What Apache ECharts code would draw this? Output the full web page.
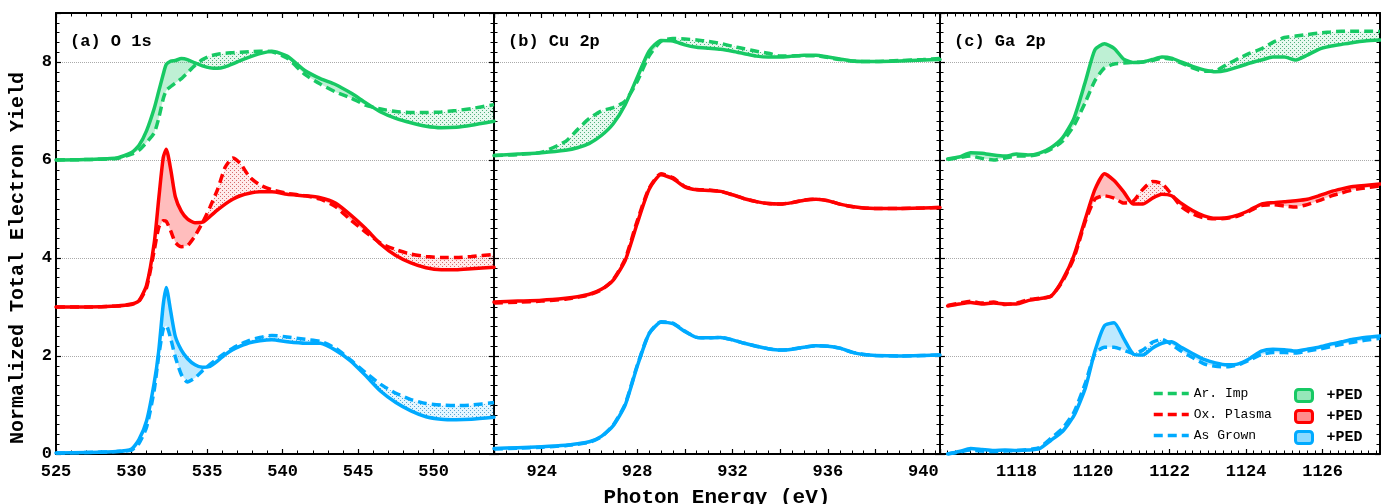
<!DOCTYPE html>
<html>
<head>
<meta charset="utf-8">
<script src="https://cdn.jsdelivr.net/npm/echarts@6/dist/echarts.min.js"></script>
<style>
  html, body { margin: 0; padding: 0; background: #fff; }
  #chart { width: 1381px; height: 504px; }
</style>
</head>
<body>
<div id="chart"></div>
<script>
// ---- data ----
var xA = [525, 527, 529, 530, 530.5, 531, 531.5, 531.8, 532.1, 532.3, 532.6, 532.9, 533.3, 533.7, 534.2, 534.7, 535.2, 535.7, 536.2, 536.7, 537.2, 537.8, 538.5, 539.3, 540.3, 541.5, 542.5, 543.5, 544.5, 545.5, 546.5, 547.5, 548.5, 549.5, 550.5, 551.5, 552.5, 554];
var gSolidA = [6.0, 6.01, 6.04, 6.15, 6.3, 6.6, 7.05, 7.4, 7.75, 7.95, 8.02, 8.03, 8.07, 8.05, 7.98, 7.92, 7.88, 7.87, 7.9, 7.96, 8.03, 8.1, 8.17, 8.22, 8.12, 7.82, 7.66, 7.54, 7.37, 7.17, 6.98, 6.85, 6.76, 6.69, 6.66, 6.67, 6.71, 6.79];
var gDashA = [6.0, 6.01, 6.03, 6.12, 6.2, 6.36, 6.55, 6.85, 7.25, 7.42, 7.5, 7.57, 7.66, 7.78, 7.93, 8.05, 8.12, 8.16, 8.18, 8.19, 8.2, 8.21, 8.22, 8.21, 8.08, 7.74, 7.55, 7.39, 7.27, 7.12, 7.04, 6.99, 6.97, 6.97, 6.98, 7.01, 7.05, 7.13];
var rSolidA = [3.0, 3.0, 3.02, 3.06, 3.13, 3.45, 4.3, 5.2, 6.05, 6.22, 5.8, 5.25, 4.95, 4.8, 4.72, 4.73, 4.85, 4.98, 5.1, 5.2, 5.27, 5.32, 5.35, 5.35, 5.3, 5.27, 5.23, 5.12, 4.88, 4.6, 4.28, 4.05, 3.9, 3.8, 3.76, 3.76, 3.78, 3.81];
var rDashA = [3.0, 3.0, 3.02, 3.05, 3.12, 3.4, 4.15, 4.62, 4.76, 4.75, 4.55, 4.32, 4.23, 4.25, 4.45, 4.72, 5.04, 5.4, 5.85, 6.04, 5.93, 5.66, 5.49, 5.39, 5.32, 5.27, 5.2, 5.05, 4.78, 4.53, 4.3, 4.17, 4.08, 4.03, 4.01, 4.01, 4.03, 4.07];
var bSolidA = [0.02, 0.03, 0.05, 0.1, 0.3, 0.68, 1.45, 2.1, 3.05, 3.4, 2.9, 2.4, 2.12, 1.95, 1.82, 1.77, 1.79, 1.9, 2.03, 2.13, 2.2, 2.27, 2.31, 2.33, 2.29, 2.26, 2.26, 2.12, 1.9, 1.6, 1.28, 1.05, 0.88, 0.76, 0.71, 0.7, 0.71, 0.75];
var bDashA = [0.02, 0.03, 0.05, 0.08, 0.22, 0.55, 1.3, 2.0, 2.55, 2.62, 2.35, 1.98, 1.62, 1.47, 1.55, 1.7, 1.83, 1.95, 2.06, 2.16, 2.24, 2.32, 2.38, 2.42, 2.39, 2.34, 2.3, 2.16, 1.92, 1.66, 1.42, 1.24, 1.11, 1.03, 1.0, 0.99, 1.0, 1.05];

var xB = [922, 923, 924, 925, 925.5, 926, 926.5, 927, 927.5, 928, 928.5, 929, 929.5, 930, 930.5, 931, 931.5, 932, 932.5, 933, 933.5, 934, 934.5, 935, 935.5, 936, 936.5, 937, 937.5, 938, 939, 940, 940.7];
var gSolidB = [6.09, 6.12, 6.15, 6.2, 6.25, 6.34, 6.5, 6.74, 7.13, 7.68, 8.22, 8.44, 8.43, 8.35, 8.3, 8.28, 8.26, 8.22, 8.17, 8.12, 8.1, 8.1, 8.12, 8.14, 8.14, 8.1, 8.06, 8.02, 8.01, 8.01, 8.02, 8.04, 8.05];
var gDashB = [6.09, 6.11, 6.16, 6.38, 6.62, 6.85, 7.0, 7.07, 7.2, 7.6, 8.12, 8.42, 8.48, 8.47, 8.45, 8.42, 8.38, 8.32, 8.27, 8.22, 8.18, 8.12, 8.12, 8.13, 8.13, 8.09, 8.05, 8.02, 8.01, 8.01, 8.03, 8.05, 8.07];
var rSolidB = [3.1, 3.12, 3.14, 3.18, 3.21, 3.26, 3.36, 3.55, 3.95, 4.7, 5.4, 5.7, 5.62, 5.45, 5.39, 5.38, 5.36, 5.29, 5.21, 5.15, 5.11, 5.1, 5.13, 5.18, 5.2, 5.17, 5.1, 5.05, 5.02, 5.01, 5.01, 5.02, 5.03];
var rDashB = [3.08, 3.1, 3.12, 3.16, 3.2, 3.25, 3.35, 3.56, 3.98, 4.75, 5.42, 5.72, 5.64, 5.46, 5.4, 5.39, 5.36, 5.29, 5.21, 5.15, 5.11, 5.1, 5.13, 5.18, 5.2, 5.17, 5.1, 5.05, 5.02, 5.01, 5.01, 5.02, 5.03];
var bSolidB = [0.11, 0.13, 0.15, 0.18, 0.21, 0.25, 0.36, 0.58, 1.0, 1.78, 2.45, 2.69, 2.66, 2.5, 2.38, 2.37, 2.38, 2.33, 2.26, 2.2, 2.15, 2.12, 2.14, 2.18, 2.21, 2.2, 2.16, 2.08, 2.03, 2.01, 2.0, 2.01, 2.02];
var bDashB = [0.1, 0.12, 0.14, 0.17, 0.2, 0.24, 0.35, 0.59, 1.02, 1.8, 2.46, 2.7, 2.67, 2.51, 2.38, 2.37, 2.38, 2.33, 2.26, 2.2, 2.15, 2.12, 2.14, 2.18, 2.21, 2.2, 2.16, 2.08, 2.03, 2.01, 2.0, 2.01, 2.02];

var xC = [1116.2, 1116.5, 1116.8, 1117.1, 1117.4, 1117.7, 1118, 1118.3, 1118.6, 1118.9, 1119.2, 1119.5, 1119.8, 1120.05, 1120.3, 1120.55, 1120.8, 1121.05, 1121.3, 1121.55, 1121.8, 1122.05, 1122.3, 1122.6, 1122.9, 1123.2, 1123.5, 1123.8, 1124.1, 1124.4, 1124.7, 1125.0, 1125.3, 1125.6, 1125.9, 1126.2, 1126.5, 1126.8, 1127.1, 1127.5];
var gSolidC = [6.02, 6.06, 6.15, 6.14, 6.1, 6.08, 6.12, 6.1, 6.14, 6.25, 6.45, 6.85, 7.6, 8.25, 8.37, 8.28, 8.06, 7.99, 8.0, 8.05, 8.1, 8.08, 8.0, 7.91, 7.84, 7.8, 7.83, 7.9, 7.98, 8.04, 8.1, 8.1, 8.04, 8.14, 8.26, 8.32, 8.36, 8.4, 8.43, 8.45];
var gDashC = [6.01, 6.05, 6.08, 6.03, 6.0, 6.04, 6.08, 6.08, 6.12, 6.22, 6.38, 6.7, 7.18, 7.62, 7.88, 7.96, 7.98, 7.99, 8.0, 8.03, 8.08, 8.06, 7.98, 7.88, 7.81, 7.82, 7.95, 8.07, 8.18, 8.27, 8.4, 8.5, 8.53, 8.56, 8.59, 8.61, 8.63, 8.63, 8.63, 8.62];
var rSolidC = [3.02, 3.06, 3.09, 3.06, 3.08, 3.06, 3.06, 3.13, 3.17, 3.22, 3.55, 4.05, 4.8, 5.4, 5.72, 5.58, 5.35, 5.1, 5.1, 5.22, 5.3, 5.27, 5.12, 4.97, 4.86, 4.81, 4.82, 4.88, 4.98, 5.1, 5.13, 5.15, 5.17, 5.2, 5.27, 5.35, 5.41, 5.46, 5.48, 5.51];
var rDashC = [3.03, 3.08, 3.12, 3.08, 3.1, 3.05, 3.08, 3.15, 3.18, 3.22, 3.52, 4.0, 4.75, 5.2, 5.27, 5.22, 5.12, 5.16, 5.4, 5.56, 5.52, 5.3, 5.05, 4.9, 4.82, 4.8, 4.81, 4.86, 4.96, 5.07, 5.09, 5.06, 5.04, 5.09, 5.17, 5.26, 5.33, 5.39, 5.43, 5.47];
var bSolidC = [0.0, 0.05, 0.11, 0.09, 0.07, 0.08, 0.07, 0.08, 0.11, 0.28, 0.46, 0.78, 1.35, 2.1, 2.62, 2.68, 2.36, 2.04, 2.02, 2.16, 2.26, 2.29, 2.18, 2.05, 1.93, 1.86, 1.82, 1.84, 1.95, 2.1, 2.14, 2.13, 2.1, 2.14, 2.18, 2.24, 2.29, 2.34, 2.38, 2.41];
var bDashC = [0.0, 0.04, 0.08, 0.06, 0.05, 0.06, 0.07, 0.09, 0.13, 0.32, 0.52, 0.85, 1.45, 2.05, 2.18, 2.18, 2.12, 2.05, 2.12, 2.28, 2.34, 2.24, 2.1, 1.97, 1.84, 1.79, 1.78, 1.82, 1.92, 2.03, 2.07, 2.07, 2.06, 2.1, 2.14, 2.19, 2.24, 2.28, 2.32, 2.36];

var sampleNames = ['Ar. Imp', 'Ox. Plasma', 'As Grown'];
var panelLabels = ['(a) O 1s', '(b) Cu 2p', '(c) Ga 2p'];
var yTicks = [0, 9, 2];   // min, max, interval

var MONO = '"Liberation Mono", "DejaVu Sans Mono", monospace';
var strong = ['#17c964', '#ff0000', '#00aaff'];
var light = ['rgba(23,201,100,0.28)', 'rgba(255,0,0,0.26)', 'rgba(0,170,255,0.26)'];
var tint = ['rgba(23,201,100,0.10)', 'rgba(255,0,0,0.08)', 'rgba(0,170,255,0.10)'];
var dotInk = ['rgba(30,150,85,0.75)', 'rgba(190,40,40,0.65)', 'rgba(30,130,190,0.7)'];
var SM = 0.2;

var panels = [
  {x: xA, solid: [gSolidA, rSolidA, bSolidA], dash: [gDashA, rDashA, bDashA], min: 525, max: 554, interval: 5, minor: 5, left: 56, width: 438, fmt: null},
  {x: xB, solid: [gSolidB, rSolidB, bSolidB], dash: [gDashB, rDashB, bDashB], min: 922, max: 940.7, interval: 2, minor: 4, left: 494, width: 446,
   fmt: function (v) { return v % 4 === 0 ? String(v) : ''; }},
  {x: xC, solid: [gSolidC, rSolidC, bSolidC], dash: [gDashC, rDashC, bDashC], min: 1116, max: 1127.5, interval: 2, minor: 10, left: 940, width: 440,
   fmt: function (v) { return v === 1116 ? '' : String(v); }}
];

// small dotted tile used where the dashed curve lies above the solid one
function dots(ink, bg) {
  var c = document.createElement('canvas');
  c.width = 4; c.height = 4;
  var g = c.getContext('2d');
  g.fillStyle = bg; g.fillRect(0, 0, 4, 4);
  g.fillStyle = ink;
  g.fillRect(0, 0, 1, 1);
  g.fillRect(2, 2, 1, 1);
  return c;
}

function zip(xs, ys) {
  return xs.map(function (x, j) { return [x, ys[j]]; });
}

// fill between solid (dim 1) and dashed (dim 2): light where solid is above, dotted where dashed is above
function betweenRenderer(fillUp, fillDown) {
  return function (params, api) {
    if (params.dataIndexInside !== 0) return null;
    var n = params.dataInsideLength;
    var regions = [];
    var cur = null;
    function open(sign) { cur = {sign: sign, top: [], bot: []}; regions.push(cur); }
    for (var j = 0; j < n; j++) {
      var x = api.value(0, j), s = api.value(1, j), d = api.value(2, j);
      var sg = s - d >= 0 ? 1 : -1;
      if (!cur) open(sg);
      cur.top.push([x, s]); cur.bot.push([x, d]);
      if (j < n - 1) {
        var x2 = api.value(0, j + 1), s2 = api.value(1, j + 1), d2 = api.value(2, j + 1);
        var sg2 = s2 - d2 >= 0 ? 1 : -1;
        if (sg2 !== sg) {
          var t = (s - d) / ((s - d) - (s2 - d2));
          var cx = x + t * (x2 - x), cy = s + t * (s2 - s);
          cur.top.push([cx, cy]); cur.bot.push([cx, cy]);
          open(sg2);
          cur.top.push([cx, cy]); cur.bot.push([cx, cy]);
        }
      }
    }
    var children = regions.map(function (r) {
      var pts = r.top.concat(r.bot.slice().reverse()).map(function (p) { return api.coord(p); });
      return {type: 'polygon', shape: {points: pts}, style: {fill: r.sign > 0 ? fillUp : fillDown}};
    });
    return {type: 'group', children: children};
  };
}

var grid = [], xAxis = [], yAxis = [], series = [], title = [];

panels.forEach(function (p, i) {
  grid.push({left: p.left, top: 13, width: p.width, height: 441, containLabel: false, outerBoundsMode: 'none'});

  var tick = {show: true, inside: true, length: 5, lineStyle: {color: '#000', width: 1.2}};
  var minor = {show: true, splitNumber: p.minor, length: 3.5, lineStyle: {color: '#000', width: 1}};
  var line = {show: true, onZero: false, lineStyle: {color: '#000', width: 2}};

  xAxis.push({
    type: 'value', gridIndex: i, position: 'bottom', min: p.min, max: p.max, interval: p.interval,
    axisLine: line, axisTick: tick, minorTick: minor, splitLine: {show: false},
    axisLabel: {
      show: true, margin: 9, color: '#000', fontFamily: MONO, fontWeight: 'bold', fontSize: 17,
      showMaxLabel: false, formatter: p.fmt || undefined
    },
    name: i === 1 ? 'Photon Energy (eV)' : '', nameLocation: 'middle', nameGap: 33,
    nameTextStyle: {fontFamily: MONO, fontWeight: 'bold', fontSize: 21, color: '#000'}
  });
  xAxis.push({
    type: 'value', gridIndex: i, position: 'top', min: p.min, max: p.max, interval: p.interval,
    axisLine: line, axisTick: tick, minorTick: minor, splitLine: {show: false}, axisLabel: {show: false}
  });
  yAxis.push({
    type: 'value', gridIndex: i, position: 'left', min: yTicks[0], max: yTicks[1], interval: yTicks[2],
    axisLine: line, axisTick: tick, minorTick: {show: true, splitNumber: 10, length: 3.5, lineStyle: {color: '#000', width: 1}},
    splitLine: {show: true, lineStyle: {color: '#aaa', type: 'dotted', width: 1}},
    axisLabel: {show: i === 0, margin: 4, color: '#000', fontFamily: MONO, fontWeight: 'bold', fontSize: 17, showMaxLabel: false}
  });
  yAxis.push({
    type: 'value', gridIndex: i, position: 'right', min: yTicks[0], max: yTicks[1], interval: yTicks[2],
    axisLine: line, axisTick: tick, minorTick: {show: true, splitNumber: 10, length: 3.5, lineStyle: {color: '#000', width: 1}},
    splitLine: {show: false}, axisLabel: {show: false}
  });

  title.push({
    text: panelLabels[i], left: p.left + 9, top: 28,
    textStyle: {fontFamily: MONO, fontWeight: 'bold', fontSize: 17, color: '#000'}
  });

  p.solid.forEach(function (s, k) {
    var d = p.dash[k];
    series.push({
      type: 'custom', xAxisIndex: 2 * i, yAxisIndex: 2 * i, silent: true, z: 1, clip: true,
      data: p.x.map(function (x, j) { return [x, s[j], d[j]]; }),
      encode: {x: 0, y: [1, 2]},
      renderItem: betweenRenderer(light[k], {image: dots(dotInk[k], tint[k]), repeat: 'repeat'})
    });
    series.push({
      name: sampleNames[k] + ' +PED', type: 'line', xAxisIndex: 2 * i, yAxisIndex: 2 * i,
      data: zip(p.x, s), symbol: 'none', smooth: SM, z: 3,
      itemStyle: {color: strong[k]},
      lineStyle: {color: strong[k], width: 3.5, join: 'round', cap: 'round'}
    });
    series.push({
      name: sampleNames[k], type: 'line', xAxisIndex: 2 * i, yAxisIndex: 2 * i,
      data: zip(p.x, d), symbol: 'none', smooth: SM, z: 4,
      itemStyle: {color: strong[k]},
      lineStyle: {color: strong[k], width: 3.5, type: [9, 5]}
    });
  });
});

var chart = echarts.init(document.getElementById('chart'));
chart.setOption({
  animation: false,
  backgroundColor: '#fff',
  title: title,
  grid: grid,
  xAxis: xAxis,
  yAxis: yAxis,
  graphic: [{
    type: 'text', x: 18, y: 258, rotation: Math.PI / 2,
    style: {
      text: 'Normalized Total Electron Yield', fill: '#000',
      font: 'bold 20px "Liberation Mono", monospace',
      align: 'center', verticalAlign: 'middle'
    }
  }],
  legend: [
    {
      orient: 'vertical', left: 1147, top: 382, itemWidth: 35, itemHeight: 14, itemGap: 8,
      textStyle: {fontFamily: MONO, fontSize: 13, color: '#000'},
      itemStyle: {opacity: 0},
      lineStyle: {width: 3.5},
      data: sampleNames
    },
    {
      orient: 'vertical', left: 1289, top: 383, itemWidth: 17, itemHeight: 12, itemGap: 6,
      textStyle: {fontFamily: MONO, fontSize: 15, fontWeight: 'bold', color: '#000'},
      formatter: function () { return ' +PED'; },
      data: sampleNames.map(function (n, k) {
        return {name: n + ' +PED', icon: 'roundRect',
          itemStyle: {color: light[k].replace(/0\.2\d\)/, '0.45)'), borderColor: strong[k], borderWidth: 3}};
      })
    }
  ],
  series: series
});
</script>
</body>
</html>
